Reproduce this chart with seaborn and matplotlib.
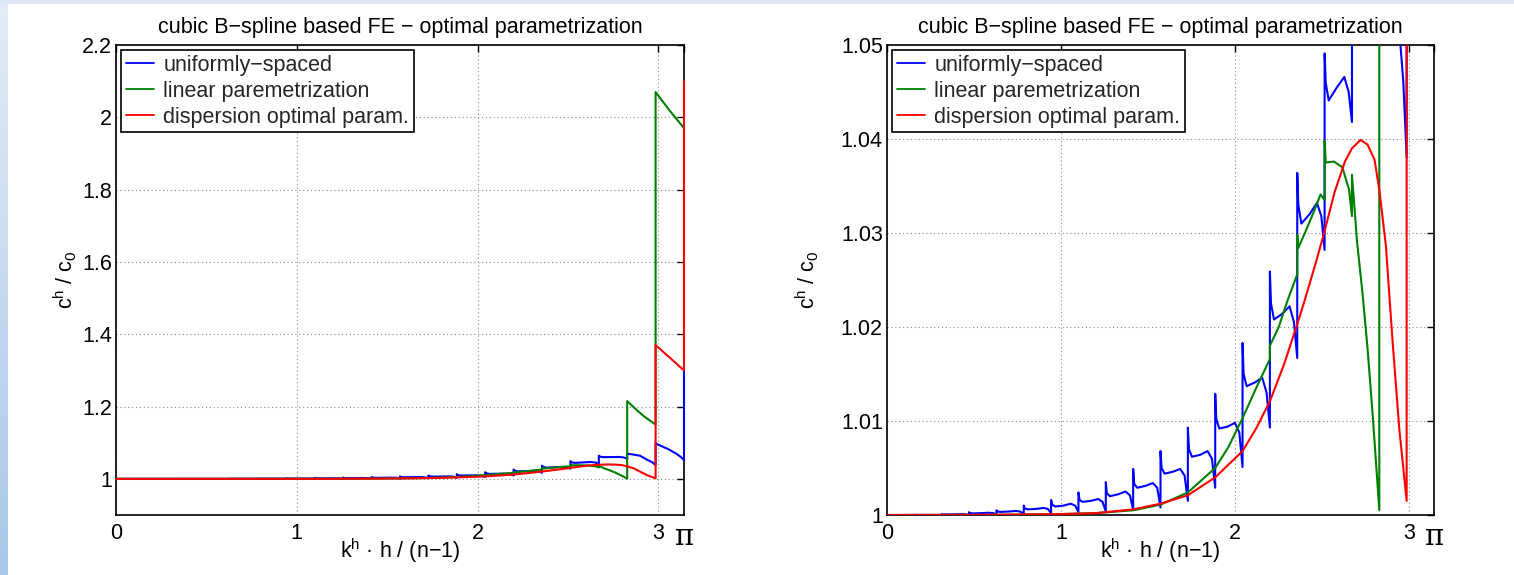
import numpy as np
import matplotlib
matplotlib.use("Agg")
import matplotlib.pyplot as plt
from matplotlib.patches import Rectangle
from matplotlib.colors import LinearSegmentedColormap
import seaborn as sns

# ---------------- data ----------------
seg_edges = [0.0, 0.1571, 0.3142, 0.4712, 0.6283, 0.7854, 0.9425, 1.0996, 1.2566,
             1.4137, 1.5708, 1.7279, 1.8850, 2.0420, 2.1991, 2.3562, 2.5133,
             2.6704, 2.8274, 2.9845, 3.1416]
# sample positions inside each element (fraction of element width)
seg_pos = [0.0, 0.04, 0.15, 0.45, 0.72, 0.88, 1.0]
# uniformly-spaced: values at seg_pos for each element
blue_vals = [
    [1.0, 1.0, 1.0, 1.0, 1.0, 1.0, 1.0],
    [1.00002, 1.00001, 1.00001, 1.00001, 1.00002, 1.00001, 1.0],
    [1.0001, 1.00007, 1.00006, 1.00007, 1.00009, 1.00007, 1.00002],
    [1.0003, 1.0002, 1.00017, 1.0002, 1.00024, 1.0002, 1.00005],
    [1.0005, 1.00038, 1.00033, 1.00037, 1.00043, 1.00036, 1.0001],
    [1.0010, 1.0007, 1.0006, 1.00065, 1.00075, 1.00065, 1.0002],
    [1.0016, 1.0011, 1.0009, 1.0010, 1.0012, 1.0010, 1.0003],
    [1.0024, 1.0016, 1.0014, 1.0015, 1.0017, 1.0014, 1.0004],
    [1.0035, 1.0023, 1.0020, 1.0022, 1.0025, 1.0021, 1.0006],
    [1.0049, 1.0033, 1.0029, 1.0031, 1.0034, 1.0029, 1.0008],
    [1.0068, 1.0050, 1.0044, 1.0046, 1.0049, 1.0042, 1.0015],
    [1.0093, 1.0070, 1.0062, 1.0064, 1.0068, 1.0060, 1.0029],
    [1.0129, 1.0102, 1.0092, 1.0094, 1.0098, 1.0088, 1.0051],
    [1.0183, 1.0150, 1.0137, 1.0141, 1.0146, 1.0130, 1.0093],
    [1.0259, 1.0225, 1.0208, 1.0214, 1.0222, 1.0205, 1.0167],
    [1.0364, 1.0330, 1.0310, 1.0320, 1.0332, 1.0318, 1.0282],
    [1.0491, 1.0460, 1.0441, 1.0455, 1.0466, 1.0450, 1.0418],
    [1.0640, 1.0615, 1.0600, 1.0602, 1.0605, 1.0592, 1.0555],
    [1.0700, 1.0690, 1.0680, 1.0640, 1.0520, 1.0460, 1.0380],
    [1.1000, 1.0965, 1.0925, 1.0820, 1.0700, 1.0610, 1.0520],
]
blue_last = 1.30

green_x = [0.0, 0.6, 1.0, 1.2, 1.4137, 1.5708, 1.7279, 1.885, 1.96, 2.042, 2.12,
           2.1991, 2.1991, 2.25, 2.30, 2.3562, 2.3562, 2.362, 2.40, 2.45, 2.49,
           2.5133, 2.5133, 2.52, 2.567, 2.615, 2.654, 2.6704, 2.6704, 2.70, 2.731,
           2.76, 2.788, 2.813, 2.8274, 2.8274, 2.87, 2.92, 2.9845, 2.9845, 3.06, 3.1416]
green_y = [1.0, 1.00002, 1.0001, 1.0002, 1.0005, 1.0011, 1.0024, 1.0050, 1.0072,
           1.0103, 1.0135, 1.0166, 1.0180, 1.0200, 1.0228, 1.0256, 1.0298, 1.0284,
           1.0300, 1.0322, 1.0341, 1.0335, 1.0398, 1.0375, 1.0376, 1.0370, 1.0346,
           1.0318, 1.0362, 1.0290, 1.0236, 1.0177, 1.0110, 1.0044, 1.0005, 1.2150,
           1.1950, 1.1730, 1.1500, 2.0700, 2.0200, 1.9700]

red_x = [0.0, 0.6, 1.0, 1.2, 1.4137, 1.5708, 1.7279, 1.885, 2.042, 2.12, 2.1991,
         2.28, 2.3562, 2.40, 2.47, 2.5133, 2.57, 2.63, 2.67, 2.72, 2.76, 2.80,
         2.8274, 2.865, 2.904, 2.942, 2.9845, 2.9845, 3.1416, 3.1416]
red_y = [1.0, 1.00002, 1.0001, 1.0002, 1.0006, 1.0012, 1.0021, 1.0040, 1.0068,
         1.0092, 1.0121, 1.0160, 1.0203, 1.0229, 1.0273, 1.0302, 1.0343, 1.0376,
         1.0390, 1.0399, 1.0394, 1.0378, 1.0346, 1.0287, 1.0184, 1.0092, 1.0015,
         1.3700, 1.3000, 2.1000]

series_labels = ["uniformly\u2212spaced", "linear paremetrization", "dispersion optimal param."]
series_colors = ["#0000ff", "#008000", "#ff0000"]
title_text = "cubic B\u2212spline based FE \u2212 optimal parametrization"
x_ticks = [0, 1, 2, 3, np.pi]
x_ticklabels = ["0", "1", "2", "3", "\u03c0"]
left_yticks = [1.0, 1.2, 1.4, 1.6, 1.8, 2.0, 2.2]
left_yticklabels = ["1", "1.2", "1.4", "1.6", "1.8", "2", "2.2"]
right_yticks = [1.0, 1.01, 1.02, 1.03, 1.04, 1.05]
right_yticklabels = ["1", "1.01", "1.02", "1.03", "1.04", "1.05"]

# --------------- build the uniformly-spaced polyline ---------------
blue_x, blue_y = [], []
for k, vals in enumerate(blue_vals):
    x0, x1 = seg_edges[k], seg_edges[k + 1]
    for f, v in zip(seg_pos, vals):
        blue_x.append(x0 + f * (x1 - x0))
        blue_y.append(v)
blue_x.append(seg_edges[-1])
blue_y.append(blue_last)

# ---------------- styling ----------------
sns.set_theme(style="white")
plt.rcParams["font.family"] = ["Liberation Sans", "DejaVu Sans"]
plt.rcParams["mathtext.fontset"] = "custom"
plt.rcParams["mathtext.rm"] = "Liberation Sans"
plt.rcParams["mathtext.it"] = "Liberation Sans"
plt.rcParams["mathtext.default"] = "regular"

W, H = 1514, 575
fig = plt.figure(figsize=(W / 100, H / 100), dpi=100, facecolor="white")

# slide-like decoration (left gradient strip and top strip)
strip = fig.add_axes([0, 0, 8 / W, 1])
grad = np.linspace(0, 1, 256).reshape(-1, 1)
cmap = LinearSegmentedColormap.from_list("bg", ["#e2ecf7", "#a9c7e8"])
strip.imshow(grad, aspect="auto", cmap=cmap, extent=[0, 1, 0, 1], origin="upper")
strip.set_axis_off()
fig.patches.append(Rectangle((0, 1 - 3 / H), 1, 3 / H, transform=fig.transFigure,
                             color="#dde8f4", zorder=0))

ax_specs = [
    ([116 / W, 1 - 515 / H, (684 - 116) / W, (515 - 45) / H], (0.9, 2.2),
     left_yticks, left_yticklabels, 2, False),
    ([887 / W, 1 - 515 / H, (1434 - 887) / W, (515 - 45) / H], (1.0, 1.05),
     right_yticks, right_yticklabels, 14, True),
]

for rect, ylim, yt, ytl, ylpad, clip in ax_specs:
    ax = fig.add_axes(rect)
    ax.set_facecolor("white")
    for xs, ys, c, lab in [(blue_x, blue_y, series_colors[0], series_labels[0]),
                           (green_x, green_y, series_colors[1], series_labels[1]),
                           (red_x, red_y, series_colors[2], series_labels[2])]:
        sns.lineplot(x=xs, y=ys, sort=False, estimator=None, color=c,
                     linewidth=1.5, ax=ax, label=lab, zorder=3, clip_on=clip)
    ax.set_xlim(0, np.pi)
    ax.set_ylim(*ylim)
    ax.set_xticks(x_ticks)
    ax.set_xticklabels(x_ticklabels)
    ax.set_yticks(yt)
    ax.set_yticklabels(ytl)
    ax.tick_params(direction="in", top=True, right=True, length=5, width=1,
                   color="black", labelsize=15.5, labelcolor="black")
    ax.tick_params(axis="x", pad=6)
    ax.tick_params(axis="y", pad=3)
    pi_lab = ax.get_xticklabels()[-1]
    pi_lab.set_fontsize(21)
    pi_lab.set_fontfamily("DejaVu Serif")
    ax.grid(True, linestyle=(0, (1, 2.5)), color="#8a8a8a", linewidth=0.8)
    ax.set_axisbelow(True)
    for s in ax.spines.values():
        s.set_visible(True)
        s.set_color("black")
        s.set_linewidth(1.2)
        s.set_zorder(2.5)
    ax.set_title(title_text, fontsize=15.5, pad=9, color="black")
    ax.set_xlabel("k$^{h}$ \u00b7 h / (n\u22121)", fontsize=15.5, labelpad=-11, color="black")
    ax.set_ylabel("c$^{h}$ / c$_{0}$", fontsize=15.5, labelpad=ylpad, color="black")
    leg = ax.legend(loc="upper left", bbox_to_anchor=(0, 1), borderaxespad=0.25,
                    fontsize=15.5, frameon=True, fancybox=False, framealpha=1,
                    edgecolor="black", handlelength=1.3, handletextpad=0.45,
                    labelspacing=0.24, borderpad=0.2)
    leg.get_frame().set_linewidth(1.2)
    leg.set_zorder(5)
    for line in leg.get_lines():
        line.set_linewidth(1.3)

fig.savefig("out.png", dpi=100, facecolor="white")
